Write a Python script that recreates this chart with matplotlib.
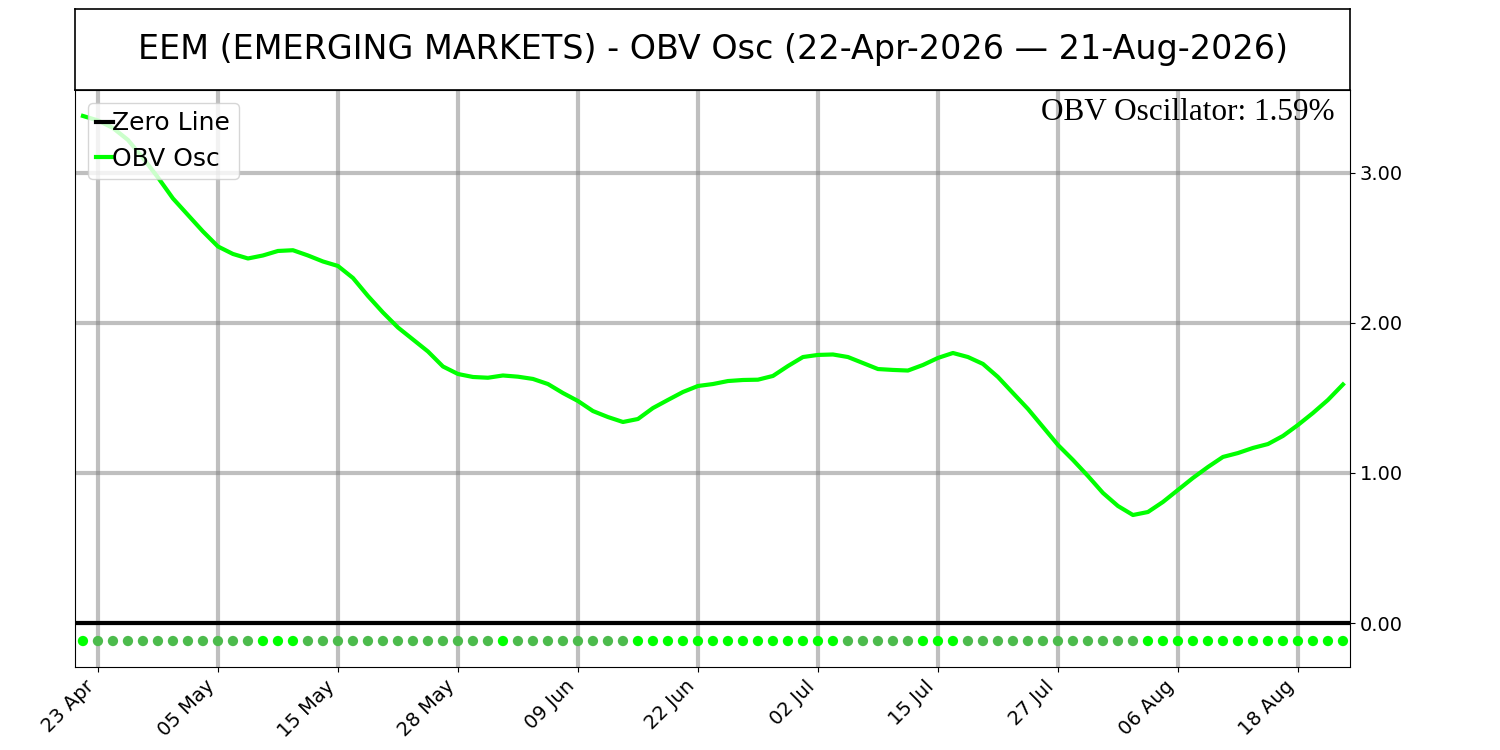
import numpy as np
import pandas as pd
import matplotlib
matplotlib.use("Agg")
import matplotlib.pyplot as plt

# trading calendar 22-Apr-2026 .. 21-Aug-2026 (US market holidays removed)
holidays = ["2026-05-25", "2026-06-19", "2026-07-03"]
dates = pd.bdate_range("2026-04-22", "2026-08-21", freq="C", holidays=holidays)

obv_osc = [
    3.38, 3.35, 3.30, 3.22, 3.10, 2.97, 2.83, 2.72, 2.61, 2.51,
    2.46, 2.43, 2.45, 2.48, 2.485, 2.45, 2.41, 2.38, 2.30, 2.18,
    2.07, 1.97, 1.89, 1.81, 1.71, 1.66, 1.64, 1.635, 1.65, 1.642,
    1.627, 1.593, 1.533, 1.48, 1.413, 1.373, 1.34, 1.36, 1.433, 1.487,
    1.54, 1.58, 1.593, 1.613, 1.62, 1.622, 1.647, 1.713, 1.773, 1.787,
    1.79, 1.773, 1.733, 1.693, 1.687, 1.683, 1.72, 1.767, 1.80, 1.773,
    1.727, 1.64, 1.533, 1.427, 1.307, 1.187, 1.087, 0.98, 0.867, 0.78,
    0.72, 0.74, 0.807, 0.887, 0.967, 1.04, 1.107, 1.133, 1.167, 1.193,
    1.247, 1.32, 1.40, 1.487, 1.59,
]

ticker = "EEM (EMERGING MARKETS)"
dot_level = -0.12

x = np.arange(len(obv_osc))
y = np.array(obv_osc)
rising = np.r_[True, np.diff(y) >= 0]
dot_colors = np.where(rising, "#00ff00", "#4cbb4c")

fig = plt.figure(figsize=(15, 7.5), dpi=100)

# title box
tax = fig.add_axes([0.05, 0.88, 0.85, 0.108])
tax.set_xticks([])
tax.set_yticks([])
for s in tax.spines.values():
    s.set_linewidth(1.2)
figtitle = "%s - OBV Osc (%s — %s)" % (ticker, dates[0].strftime("%d-%b-%Y"), dates[-1].strftime("%d-%b-%Y"))
tax.text(0.5, 0.5, figtitle, ha="center", va="center", fontsize=24)

ax = fig.add_axes([0.05, 0.1107, 0.85, 0.7693])
ax.axhline(0, color="black", linewidth=3, label="Zero Line", zorder=3)
ax.plot(x, y, color="lime", linewidth=3, label="OBV Osc", zorder=4)
ax.scatter(x, np.full(len(x), dot_level), c=dot_colors, s=55, zorder=5, linewidths=0)

ax.set_xlim(-0.53, len(x) - 0.53)
ax.set_ylim(-0.293, 3.553)
ticks = x[1::8]
ax.set_xticks(ticks)
ax.set_xticklabels([dates[i].strftime("%d %b") for i in ticks], rotation=45, ha="right", fontsize=14)
ax.set_yticks([0, 1, 2, 3])
ax.yaxis.tick_right()
ax.yaxis.set_major_formatter(matplotlib.ticker.FormatStrFormatter("%.2f"))
ax.tick_params(axis="y", labelsize=14)
ax.grid(True, color="gray", alpha=0.5, linewidth=3)
ax.set_axisbelow(True)

ax.text(0.988, 0.987, "OBV Oscillator: %.2f%%" % y[-1], transform=ax.transAxes,
        ha="right", va="top", fontsize=22.5, family="Liberation Serif")
ax.legend(loc="upper left", fontsize=18, handlelength=0.65, handletextpad=0.0,
          borderpad=0.35, labelspacing=0.45)

fig.savefig("out.png")
